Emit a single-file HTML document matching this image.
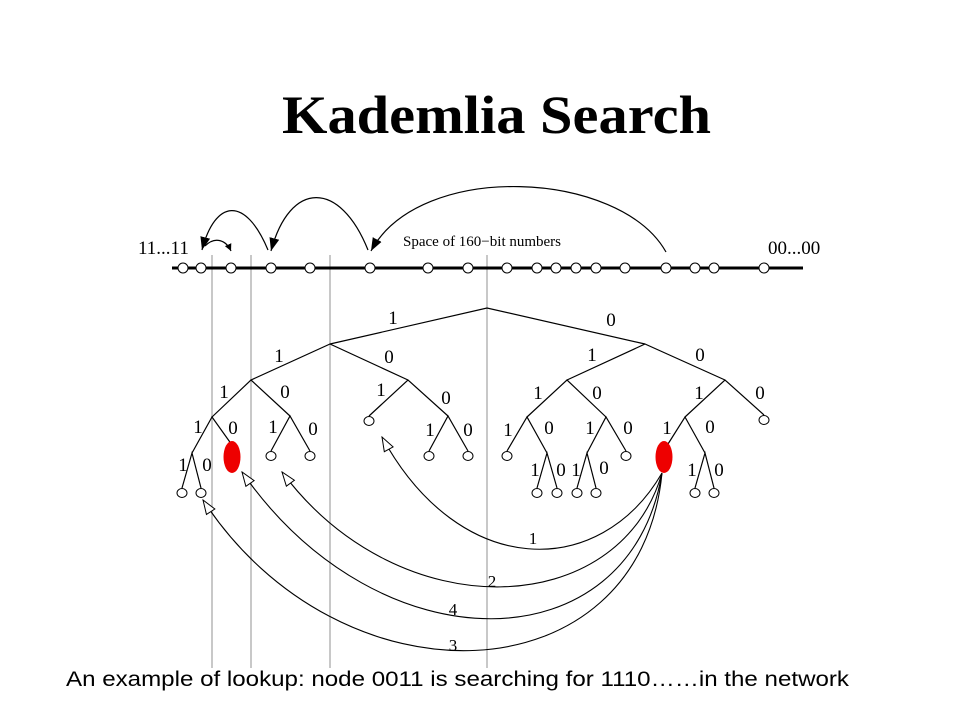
<!DOCTYPE html>
<html><head><meta charset="utf-8"><style>
html,body{margin:0;padding:0;background:#fff;width:960px;height:720px;overflow:hidden}
svg{display:block}
</style></head><body>
<svg width="960" height="720" viewBox="0 0 960 720" xmlns="http://www.w3.org/2000/svg">
<defs>
<marker id="oa" markerWidth="16" markerHeight="12" refX="15" refY="6" orient="auto" markerUnits="userSpaceOnUse">
<path d="M1,1 L15,6 L1,11 Z" fill="#fff" stroke="#000" stroke-width="1"/>
</marker>
<marker id="fa" markerWidth="14" markerHeight="12" refX="13" refY="6" orient="auto" markerUnits="userSpaceOnUse">
<path d="M0,1 L13,6 L0,11 Z" fill="#000"/>
</marker>
<marker id="sa" markerWidth="8" markerHeight="8" refX="7" refY="4" orient="auto" markerUnits="userSpaceOnUse">
<path d="M0,0.5 L7,4 L0,7.5 Z" fill="#000"/>
</marker>
</defs>
<text x="282" y="133" font-family="Liberation Serif, serif" font-weight="bold" font-size="54" textLength="429" lengthAdjust="spacingAndGlyphs">Kademlia Search</text>

<g stroke="#c8c8c8" stroke-width="2">
<line x1="212" y1="255" x2="212" y2="668"/>
<line x1="251" y1="255" x2="251" y2="668"/>
<line x1="330" y1="255" x2="330" y2="668"/>
<line x1="487" y1="255" x2="487" y2="668"/>
</g>

<line x1="172" y1="268" x2="803" y2="268" stroke="#000" stroke-width="3"/>
<g fill="#fff" stroke="#000" stroke-width="1">
<circle cx="183" cy="268" r="5"/><circle cx="201" cy="268" r="5"/><circle cx="231" cy="268" r="5"/><circle cx="271" cy="268" r="5"/><circle cx="310" cy="268" r="5"/><circle cx="370" cy="268" r="5"/><circle cx="428" cy="268" r="5"/><circle cx="468" cy="268" r="5"/><circle cx="507" cy="268" r="5"/><circle cx="537" cy="268" r="5"/><circle cx="556" cy="268" r="5"/><circle cx="576" cy="268" r="5"/><circle cx="596" cy="268" r="5"/><circle cx="625" cy="268" r="5"/><circle cx="666" cy="268" r="5"/><circle cx="695" cy="268" r="5"/><circle cx="714" cy="268" r="5"/><circle cx="764" cy="268" r="5"/>
</g>
<g font-family="Liberation Serif, serif" font-size="19" fill="#000">
<text x="138" y="254">11...11</text>
<text x="768" y="254">00...00</text>
<text x="403" y="246" font-size="15">Space of 160−bit numbers</text>
</g>
<g fill="none" stroke="#000" stroke-width="1.2">
<path d="M666,252 C620,170 420,160 371,251" marker-end="url(#fa)"/>
<path d="M368,250 C340,180 290,180 271,251" marker-end="url(#fa)"/>
<path d="M268,250 C245,195 215,200 202,250" marker-end="url(#fa)"/>
<path d="M205,246 C215,236 226,240 231,251" marker-end="url(#sa)"/>
</g>

<g stroke="#000" stroke-width="1.2" fill="none">
<polyline points="330,344 487,308 645,344"/>
<polyline points="251,380 330,344 408,380"/>
<polyline points="212,417 251,380 290,416"/>
<polyline points="192,453 212,417 232,445"/>
<polyline points="182,488 192,453 201,488"/>
<polyline points="271,451 290,416 310,451"/>
<polyline points="369,416 408,380 448,416"/>
<polyline points="429,451 448,416 468,451"/>
<polyline points="567,380 645,344 725,380"/>
<polyline points="527,417 567,380 606,417"/>
<polyline points="507,451 527,417 547,453"/>
<polyline points="537,488 547,453 557,488"/>
<polyline points="587,453 606,417 626,451"/>
<polyline points="577,488 587,453 596,488"/>
<polyline points="685,417 725,380 764,415"/>
<polyline points="668,444 685,417 705,453"/>
<polyline points="695,488 705,453 714,488"/>
</g>
<g fill="#fff" stroke="#000" stroke-width="1">
<ellipse cx="182" cy="493" rx="5" ry="4.5"/><ellipse cx="201" cy="493" rx="5" ry="4.5"/>
<ellipse cx="271" cy="456" rx="5" ry="4.5"/><ellipse cx="310" cy="456" rx="5" ry="4.5"/>
<ellipse cx="369" cy="421" rx="5" ry="4.5"/>
<ellipse cx="429" cy="456" rx="5" ry="4.5"/><ellipse cx="468" cy="456" rx="5" ry="4.5"/>
<ellipse cx="507" cy="456" rx="5" ry="4.5"/>
<ellipse cx="537" cy="493" rx="5" ry="4.5"/><ellipse cx="557" cy="493" rx="5" ry="4.5"/>
<ellipse cx="577" cy="493" rx="5" ry="4.5"/><ellipse cx="596" cy="493" rx="5" ry="4.5"/>
<ellipse cx="626" cy="456" rx="5" ry="4.5"/>
<ellipse cx="764" cy="420" rx="5" ry="4.5"/>
<ellipse cx="695" cy="493" rx="5" ry="4.5"/><ellipse cx="714" cy="493" rx="5" ry="4.5"/>
</g>
<ellipse cx="232" cy="457" rx="8.5" ry="16" fill="#ee0000"/>
<ellipse cx="664" cy="457" rx="8.5" ry="16" fill="#ee0000"/>

<g font-family="Liberation Serif, serif" font-size="19" fill="#000" text-anchor="middle">
<text x="393" y="324">1</text><text x="611" y="326">0</text>
<text x="279" y="362">1</text><text x="389" y="363">0</text><text x="592" y="361">1</text><text x="700" y="361">0</text>
<text x="224" y="398">1</text><text x="285" y="398">0</text><text x="381" y="396">1</text><text x="446" y="404">0</text>
<text x="538" y="399">1</text><text x="597" y="399">0</text><text x="699" y="399">1</text><text x="760" y="399">0</text>
<text x="198" y="433">1</text><text x="233" y="434">0</text><text x="273" y="433">1</text><text x="313" y="435">0</text>
<text x="430" y="436">1</text><text x="468" y="436">0</text><text x="508" y="436">1</text><text x="549" y="434">0</text>
<text x="590" y="434">1</text><text x="628" y="434">0</text><text x="667" y="434">1</text><text x="710" y="433">0</text>
<text x="183" y="471">1</text><text x="207" y="471">0</text>
<text x="535" y="476">1</text><text x="561" y="476">0</text><text x="576" y="476">1</text><text x="604" y="474">0</text>
<text x="692" y="476">1</text><text x="719" y="476">0</text>
</g>

<g fill="none" stroke="#000" stroke-width="1.1">
<path d="M662,473 C600,580 460,580 382,437" marker-end="url(#oa)"/>
<path d="M662,473 C620,620 400,630 282,472" marker-end="url(#oa)"/>
<path d="M662,473 C630,665 380,670 242,472" marker-end="url(#oa)"/>
<path d="M662,473 C640,700 340,710 203,500" marker-end="url(#oa)"/>
</g>
<g font-family="Liberation Serif, serif" font-size="17" fill="#000" text-anchor="middle">
<text x="533" y="544">1</text>
<text x="492" y="587">2</text>
<text x="453" y="615">4</text>
<text x="453" y="651">3</text>
</g>

<text x="66" y="686" font-family="Liberation Sans, sans-serif" font-size="21" textLength="783" lengthAdjust="spacingAndGlyphs">An example of lookup:  node 0011 is searching for 1110……in the network</text>
</svg>
</body></html>
